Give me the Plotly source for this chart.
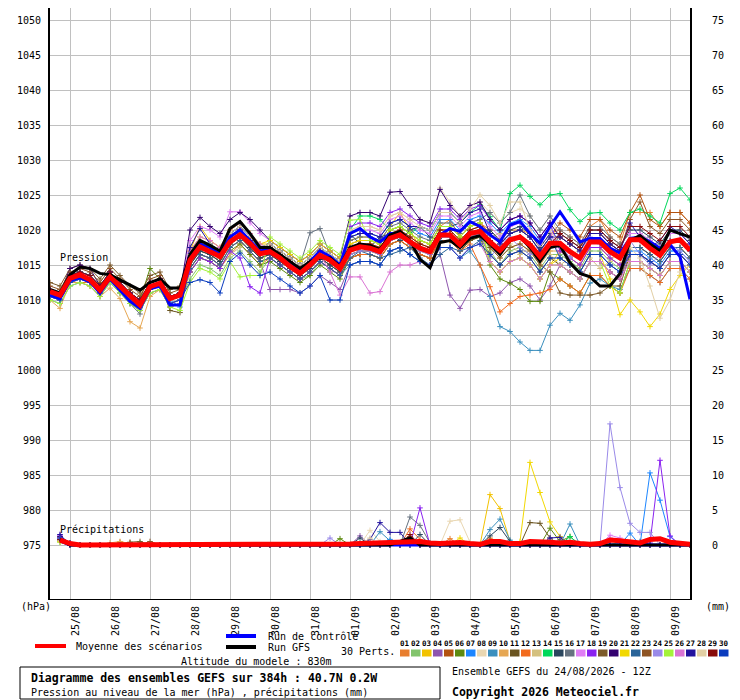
import plotly.graph_objects as go

# GEFS ensemble diagram, 24/08/2026 12Z run, 40.7N 0.2W
# one point every 6h, 0..384h
HOURS = list(range(0, 385, 6))
DATES = ["25/08", "26/08", "27/08", "28/08", "29/08", "30/08", "31/08", "01/09",
         "02/09", "03/09", "04/09", "05/09", "06/09", "07/09", "08/09", "09/09"]
DATE_HOURS = list(range(12, 384, 24))

MEAN = [1011.2, 1010.7, 1013.1, 1013.6, 1012.9, 1011.4, 1013.3, 1011.9, 1010.5, 1009.3,
        1011.9, 1012.4, 1010.2, 1010.7, 1015.7, 1017.6, 1016.9, 1016.2, 1018.3, 1019.3,
        1018.1, 1016.6, 1016.9, 1016.0, 1014.8, 1013.8, 1015.0, 1016.4, 1015.7, 1014.5,
        1017.1, 1017.6, 1017.4, 1016.9, 1018.8, 1019.3, 1018.3, 1017.4, 1016.9, 1019.3,
        1019.3, 1017.9, 1019.5, 1019.8, 1018.3, 1017.1, 1018.6, 1019.0, 1017.9, 1016.2,
        1018.1, 1018.1, 1016.9, 1016.0, 1018.3, 1018.3, 1016.9, 1016.0, 1018.6, 1018.6,
        1017.4, 1016.4, 1018.3, 1018.6, 1017.1]

CTRL = [1010.7, 1010.2, 1012.8, 1013.2, 1012.6, 1011, 1013, 1011.4, 1009.8, 1008.8, 1011.6, 1012, 1009.3, 1009.3,
        1016, 1018, 1017.5, 1016.5, 1019, 1020, 1018.5, 1017, 1017.3, 1016.3, 1015.2, 1014.2, 1015.5, 1017, 1016.2, 1015,
        1019.5, 1020.2, 1019, 1018.3, 1019.5, 1019.5, 1018.3, 1017.4, 1016.9, 1019.3, 1020.2, 1019.8, 1021.2, 1020.5,
        1019.3, 1018.3, 1020.7, 1021.2, 1019.5, 1018.1, 1020.5, 1022.6, 1020.5, 1018.3, 1018.8, 1018.8, 1017.4, 1016.7,
        1018.8, 1019, 1018.3, 1017.4, 1017.9, 1016.2, 1010.1]

GFS = [1011.5, 1011, 1013.6, 1014.7, 1014.5, 1013.8, 1013.6, 1012.9, 1012.1, 1011.4, 1012.5, 1013, 1011.7, 1011.7,
       1016.5, 1018.5, 1017.8, 1017, 1020.2, 1021.2, 1019.5, 1017.5, 1017.5, 1016.5, 1015.5, 1014.5, 1015.5, 1016, 1016, 1014.8,
       1017.5, 1018, 1017.8, 1017.2, 1019.3, 1019.8, 1018.5, 1015.8, 1014.6, 1018.2, 1018.5, 1017.5, 1018.8, 1019.2,
       1018, 1016.5, 1018.5, 1019, 1017.5, 1015.5, 1017.5, 1017.8, 1015.3, 1013.8, 1013.3, 1012, 1012, 1013.8,
       1018.5, 1019.2, 1018, 1017, 1020, 1019.5, 1019]

P01 = [1010.5, 1010, 1012.5, 1012.5, 1012.5, 1011, 1013, 1011, 1009.5, 1008.5, 1011, 1011.5, 1009, 1009.5,
       1014, 1016, 1015.5, 1014.5, 1016.5, 1018, 1016.5, 1015, 1016, 1015, 1014, 1013, 1014, 1015.5, 1014.5, 1013.5,
       1016.5, 1017, 1017, 1016.5, 1018.5, 1019, 1018, 1018.5, 1018, 1020.5, 1021.5, 1019, 1020.5, 1021,
       1020, 1018.5, 1020, 1020, 1019.5, 1017.5, 1019.5, 1020, 1019, 1018, 1020.5, 1021.5, 1019, 1018,
       1022.5, 1022.5, 1022.5, 1020.5, 1022.5, 1022.5, 1021]
P02 = [1010.5, 1010, 1012.5, 1013, 1012.5, 1011, 1013, 1011.5, 1010, 1009.5, 1011.5, 1012, 1009.5, 1010,
       1013, 1015, 1014.5, 1013.5, 1016, 1017, 1015.5, 1014, 1016, 1015, 1014, 1013, 1013.5, 1015.5, 1014.5, 1013.5,
       1017.5, 1018, 1018, 1017.5, 1019.5, 1020, 1019, 1018, 1017.5, 1020, 1020, 1018.5, 1020, 1020.5,
       1017, 1015, 1017, 1017.5, 1016.5, 1014.5, 1016.5, 1016.5, 1015.5, 1014.5, 1017, 1017, 1015.5, 1014.5,
       1016.5, 1016.5, 1015.5, 1014.5, 1016.5, 1016.5, 1015]
P03 = [1011.5, 1011, 1013.5, 1014, 1013.5, 1012, 1014, 1012.5, 1011, 1010, 1012.5, 1013, 1010.5, 1011,
       1017, 1020.5, 1018.5, 1017.5, 1020, 1021, 1019.5, 1018, 1018, 1017, 1016, 1015, 1016, 1017.5, 1016.5, 1015.5,
       1018.5, 1019, 1019, 1018.5, 1020.5, 1022.5, 1020, 1017.5, 1017, 1019.5, 1019.5, 1018, 1019.5, 1020,
       1015.5, 1014, 1015.5, 1016, 1015, 1013, 1015, 1017, 1016, 1015, 1017.5, 1017.5, 1016, 1015,
       1015.5, 1015.5, 1014.5, 1013.5, 1015.5, 1015.5, 1014]
P04 = [1010.5, 1010, 1012.5, 1013, 1012.5, 1011, 1013, 1011.5, 1010, 1009, 1011.5, 1012, 1009.5, 1010,
       1014.5, 1016.5, 1016, 1015, 1017.5, 1018.5, 1017, 1015.5, 1011.5, 1011.5, 1011.5, 1011, 1012, 1013.5, 1012.5, 1011.5,
       1015, 1015.5, 1015.5, 1015, 1017, 1017.5, 1016.5, 1015.5, 1015, 1016.5, 1010.7, 1008.8, 1011.4, 1011.5,
       1010.5, 1011, 1012.5, 1013, 1012, 1010, 1012, 1015, 1014, 1013, 1015.5, 1015.5, 1014, 1013,
       1016.5, 1016.5, 1015.5, 1014.5, 1016.5, 1016.5, 1015]
P05 = [1011, 1010.5, 1013, 1013.5, 1013, 1011.5, 1013.5, 1012, 1010.5, 1009.5, 1012, 1012.5, 1010, 1010.5,
       1016, 1018, 1017.5, 1016.5, 1019, 1020, 1018.5, 1017, 1017.5, 1016.5, 1015.5, 1014.5, 1015.5, 1017, 1016, 1015,
       1018, 1018.5, 1018.5, 1018, 1020, 1020.5, 1019.5, 1018.5, 1018, 1020.5, 1020.5, 1019, 1020.5, 1021,
       1019.5, 1018, 1019.5, 1020, 1019, 1017, 1019, 1021, 1020, 1019, 1021.5, 1021.5, 1020, 1019,
       1022.5, 1025, 1021.5, 1020.5, 1022.5, 1022.5, 1021]
P06 = [1011.5, 1011, 1013.5, 1014, 1013.5, 1012, 1014, 1012.5, 1011, 1010, 1014.5, 1013, 1010.5, 1011,
       1014, 1016, 1015.5, 1014.5, 1017, 1018, 1016.5, 1015, 1015.5, 1014.5, 1013.5, 1012.5, 1013.5, 1015, 1014, 1013,
       1016, 1016.5, 1016.5, 1016, 1018, 1018.5, 1017.5, 1016.5, 1016, 1018.5, 1018.5, 1017, 1018.5, 1019,
       1015, 1013, 1012.4, 1011.5, 1009.8, 1009.8, 1014, 1013, 1012, 1011, 1013.5, 1013.5, 1012, 1011,
       1015.5, 1015.5, 1014.5, 1013.5, 1015.5, 1015.5, 1014]
P07 = [1011, 1010.5, 1013, 1013.5, 1013, 1011.5, 1013.5, 1012, 1010.5, 1009.5, 1012, 1012.5, 1010, 1009,
       1016, 1018, 1017.5, 1016.5, 1019, 1020, 1018.5, 1017, 1017.5, 1016.5, 1015.5, 1014.5, 1015.5, 1017, 1016, 1015,
       1019, 1019.5, 1019.5, 1019, 1021, 1021.5, 1020.5, 1019.5, 1019, 1021.5, 1021.5, 1020, 1021.5, 1022,
       1021, 1019.5, 1021, 1021.5, 1020.5, 1018.5, 1020.5, 1018, 1017, 1016, 1018.5, 1018.5, 1017, 1016,
       1017, 1017, 1016, 1015, 1017, 1017, 1015.5]
P08 = [1010.5, 1010, 1012.5, 1013, 1012.5, 1011, 1013, 1011.5, 1010, 1009, 1011.5, 1012, 1009.5, 1010,
       1015.5, 1017.5, 1017, 1016, 1018.5, 1019.5, 1018, 1016.5, 1017, 1016, 1015, 1014, 1015, 1016.5, 1015.5, 1014.5,
       1020, 1020.5, 1020.5, 1020, 1022, 1022.5, 1021.5, 1021.5, 1021, 1026, 1024, 1022, 1023.5, 1024,
       1022.5, 1021, 1022.5, 1023, 1022, 1020, 1022, 1019, 1018, 1017, 1019.5, 1019.5, 1018, 1017,
       1017.5, 1017.5, 1016.5, 1015.5, 1017.5, 1017.5, 1016]
P09 = [1010, 1009.5, 1012, 1012.5, 1012, 1010.5, 1012.5, 1011, 1009.5, 1008.5, 1011, 1011.5, 1009, 1009.5,
       1014.5, 1016.5, 1016, 1015, 1017.5, 1018.5, 1017, 1015.5, 1016, 1015, 1014, 1013, 1014, 1015.5, 1014.5, 1013.5,
       1015, 1015.5, 1015.5, 1015, 1017, 1017.5, 1016.5, 1015.5, 1015, 1017.5, 1017.5, 1016, 1017, 1015,
       1010.5, 1006.2, 1005.5, 1004, 1002.8, 1002.8, 1006.4, 1008.1, 1007.1, 1009.3, 1012.4, 1013, 1012, 1011.5,
       1014.5, 1014.5, 1013.5, 1012.5, 1014.5, 1014.5, 1013]
P10 = [1010, 1008.8, 1012.5, 1012.5, 1012, 1010.5, 1011.7, 1010.2, 1006.9, 1006, 1010.5, 1011.5, 1009, 1009.5,
       1015, 1017, 1016.5, 1015.5, 1018, 1019, 1017.5, 1016, 1016.5, 1015.5, 1014.5, 1013.5, 1014.5, 1016, 1015, 1014,
       1017.5, 1018, 1018, 1017.5, 1019.5, 1020, 1019, 1018, 1017.5, 1020, 1020, 1018.5, 1020, 1020.5,
       1017.5, 1016, 1017.5, 1018, 1017, 1015, 1017, 1017, 1016, 1015, 1017.5, 1017.5, 1016, 1015,
       1017.5, 1017.5, 1016.5, 1015.5, 1017.5, 1017.5, 1016]
P11 = [1011, 1010.5, 1013, 1013.5, 1013, 1011.5, 1013.5, 1012, 1010.5, 1009.5, 1012, 1012.5, 1008.5, 1008.2,
       1015, 1017, 1016.5, 1015.5, 1018, 1019, 1017.5, 1016, 1016.5, 1015.5, 1014.5, 1013.5, 1014.5, 1016, 1015, 1014,
       1016, 1016.5, 1016.5, 1016, 1018, 1018.5, 1017.5, 1016.5, 1016, 1018.5, 1018.5, 1017, 1018.5, 1019,
       1016.5, 1015, 1016.5, 1017, 1016, 1014, 1016, 1015, 1014, 1013, 1015.5, 1015.5, 1014, 1013,
       1017.5, 1017.5, 1016.5, 1015.5, 1017.5, 1017.5, 1016]
P12 = [1010.5, 1010, 1012.5, 1013, 1012.5, 1011, 1013, 1011.5, 1010, 1009, 1011.5, 1012, 1009.5, 1010,
       1014.5, 1016.5, 1016, 1015, 1017.5, 1018.5, 1017, 1015.5, 1016, 1015, 1014, 1013, 1014, 1015.5, 1014.5, 1013.5,
       1016, 1016.5, 1016.5, 1016, 1018, 1018.5, 1017.5, 1016.5, 1016, 1018.5, 1018.5, 1017, 1018, 1015,
       1011.9, 1008.3, 1009.5, 1010.5, 1010.7, 1011, 1011.5, 1013, 1012, 1011, 1013.5, 1013.5, 1012, 1011,
       1014.5, 1014.5, 1013.5, 1012.5, 1014.5, 1014.5, 1013]
P13 = [1011, 1010.5, 1013, 1013.5, 1013, 1011.5, 1013.5, 1012, 1010.5, 1009.5, 1012, 1012.5, 1010, 1010.5,
       1016, 1018, 1017.5, 1016.5, 1016.5, 1017.5, 1018.5, 1017, 1017.5, 1016.5, 1015.5, 1014.5, 1015.5, 1017, 1016, 1015,
       1018, 1018.5, 1018.5, 1018, 1020, 1020.5, 1019.5, 1018.5, 1018, 1020.5, 1020.5, 1019, 1020.5, 1021,
       1019, 1019.5, 1018, 1016.5, 1017.5, 1018, 1016.5, 1015, 1016, 1017.5, 1016, 1014.5, 1015.5, 1017,
       1016.5, 1016.5, 1015.5, 1014.5, 1016.5, 1016.5, 1015]
P14 = [1011.5, 1011, 1013.5, 1014, 1013.5, 1012, 1014, 1012.5, 1011, 1010, 1012.5, 1013, 1010.5, 1011,
       1016.5, 1018.5, 1018, 1017, 1019.5, 1020.5, 1019, 1017.5, 1018, 1017, 1016, 1015, 1016, 1017.5, 1016.5, 1015.5,
       1020, 1022, 1022, 1021.5, 1020, 1020.5, 1019.5, 1020.5, 1020, 1022.5, 1022.5, 1021, 1022.5, 1023.6,
       1021.9, 1020, 1025.2, 1026.4, 1024.8, 1023.6, 1025, 1025.2, 1022.9, 1021.2, 1022.4, 1022.5, 1021, 1020,
       1022.5, 1023, 1022, 1021, 1025.2, 1026, 1024.3]
P15 = [1011, 1010.5, 1013, 1013.5, 1013, 1011.5, 1013.5, 1012, 1010.5, 1009.5, 1012, 1012.5, 1010, 1010.5,
       1015, 1017, 1016.5, 1015.5, 1018, 1019, 1017.5, 1016, 1016.5, 1015.5, 1014.5, 1013.5, 1014.5, 1016, 1015, 1014,
       1019.5, 1018, 1017.5, 1019, 1019.5, 1018.5, 1020, 1020.5, 1019, 1018.5, 1020.5, 1021, 1019.5, 1020,
       1020, 1018.5, 1020, 1020.5, 1019.5, 1017.5, 1019.5, 1019.5, 1018.5, 1017.5, 1020, 1020, 1018.5, 1017.5,
       1020, 1020, 1019, 1018, 1020, 1020, 1018.5]
P16 = [1011, 1010.5, 1013, 1013.5, 1013, 1011.5, 1013.5, 1012, 1009.5, 1008, 1012, 1012.5, 1010, 1010.5,
       1016.5, 1018.5, 1018, 1017, 1019.5, 1020.5, 1019, 1017.5, 1018, 1017, 1016, 1015, 1019.6, 1020.2, 1016.5, 1015.5,
       1018.5, 1019, 1019, 1018.5, 1020.5, 1021, 1020, 1019, 1018.5, 1021, 1021, 1019.5, 1021, 1021.5,
       1022.5, 1021, 1022.5, 1025, 1022, 1020, 1022, 1020, 1019, 1018, 1020.5, 1020.5, 1019, 1018,
       1019.5, 1019.5, 1018.5, 1017.5, 1019.5, 1019.5, 1018]
P17 = [1011.5, 1011, 1013.5, 1014, 1013.5, 1012, 1014, 1012.5, 1011, 1010, 1012.5, 1013, 1010.5, 1011,
       1018.5, 1020.5, 1020, 1019, 1022.6, 1022.6, 1021, 1019.5, 1018.5, 1017.5, 1016.5, 1015.5, 1016.5, 1018, 1017, 1016,
       1019.5, 1020, 1020, 1019.5, 1021.5, 1022, 1021, 1020, 1019.5, 1022, 1022, 1020.5, 1022, 1022.5,
       1020.5, 1019, 1020.5, 1021, 1020, 1018, 1020, 1016, 1015, 1014, 1016.5, 1016.5, 1015, 1014,
       1019.5, 1019.5, 1018.5, 1017.5, 1019.5, 1019.5, 1018]
P18 = [1011, 1010.5, 1013, 1013.5, 1013, 1011.5, 1013.5, 1012, 1010.5, 1009.5, 1012, 1012.5, 1010, 1010.5,
       1014, 1016, 1015.5, 1014.5, 1017, 1016, 1011.9, 1011, 1016, 1015, 1014, 1013, 1014, 1015.5, 1014.5, 1013.5,
       1020.5, 1021, 1021, 1020.5, 1022.5, 1023, 1022, 1021, 1020.5, 1023, 1023, 1021.5, 1023, 1023.5,
       1021.5, 1020, 1021.5, 1022, 1021, 1019, 1021, 1017, 1016, 1015, 1017.5, 1017.5, 1016, 1015,
       1016.5, 1016.5, 1015.5, 1014.5, 1016.5, 1016.5, 1015]
P19 = [1012.5, 1012, 1014.5, 1015, 1014.5, 1013, 1015, 1013.5, 1012, 1011, 1013.5, 1014, 1011.5, 1012,
       1016, 1018, 1017.5, 1016.5, 1019, 1020, 1018.5, 1017, 1017.5, 1016.5, 1015.5, 1014.5, 1015.5, 1017, 1016, 1015,
       1016.5, 1017, 1017, 1016.5, 1018.5, 1019, 1018, 1017, 1016.5, 1019, 1019, 1017.5, 1019, 1019.5,
       1017.5, 1016, 1017.5, 1018, 1017, 1015, 1014, 1011, 1010.7, 1010.7, 1010.7, 1011, 1012, 1012,
       1016.5, 1016.5, 1015.5, 1014.5, 1016.5, 1016.5, 1015]
P20 = [1011.5, 1011, 1014.5, 1015, 1014.5, 1012, 1014, 1012.5, 1011, 1010, 1012.5, 1013, 1010.5, 1011,
       1020, 1021.8, 1020.5, 1019.5, 1021.5, 1022.5, 1021.5, 1020, 1018.5, 1017.5, 1016.5, 1015.5, 1016.5, 1018, 1017, 1016,
       1022, 1022.5, 1022.5, 1022, 1025.4, 1025.5, 1023.5, 1021.5, 1021, 1025.8, 1023.5, 1022, 1023.5, 1024,
       1021.5, 1020, 1021.5, 1022, 1021, 1019, 1021, 1019, 1018, 1017, 1019.5, 1019.5, 1018, 1017,
       1018.5, 1018.5, 1017.5, 1016.5, 1018.5, 1018.5, 1017]
P21 = [1011, 1010.5, 1013, 1013.5, 1013, 1011.5, 1013.5, 1012, 1010.5, 1009.5, 1012, 1012.5, 1010, 1010.5,
       1017, 1019, 1018.5, 1017.5, 1020, 1021, 1019.5, 1018, 1018.5, 1017.5, 1016.5, 1015.5, 1016.5, 1018, 1017, 1016,
       1018, 1018.5, 1018.5, 1018, 1020, 1020.5, 1019.5, 1018.5, 1018, 1020.5, 1020.5, 1019, 1020.5, 1021,
       1015.5, 1014, 1015.5, 1016, 1015, 1013, 1015, 1016, 1015, 1014, 1016.5, 1016.5, 1013, 1007.9,
       1010, 1008.3, 1006.2, 1008, 1011.5, 1013.5, 1015]
P22 = [1010.5, 1010, 1012.5, 1013, 1012.5, 1011, 1013, 1011.5, 1010, 1009, 1011.5, 1012, 1009.5, 1010,
       1014.5, 1016.5, 1016, 1015, 1017.5, 1018.5, 1017, 1015.5, 1016, 1015, 1014, 1013, 1014, 1015.5, 1014.5, 1013.5,
       1016, 1017, 1016.5, 1016, 1016.5, 1017, 1017.5, 1016, 1015, 1016.5, 1017.5, 1017, 1017.5, 1018.5,
       1019.5, 1018, 1019.5, 1020, 1019, 1017, 1019, 1016, 1015, 1014, 1016.5, 1016.5, 1015, 1014,
       1017.5, 1017.5, 1016.5, 1015.5, 1017.5, 1017.5, 1016]
P23 = [1012, 1011.5, 1014, 1014.5, 1014, 1012.5, 1014.5, 1013, 1011.5, 1010.5, 1013, 1013.5, 1011, 1011.5,
       1015.5, 1017.5, 1017, 1016, 1018.5, 1019.5, 1018, 1016.5, 1017, 1016, 1015, 1014, 1015, 1016.5, 1015.5, 1014.5,
       1017, 1017.5, 1017.5, 1017, 1019, 1019.5, 1018.5, 1017.5, 1017, 1019.5, 1019.5, 1018, 1019.5, 1020,
       1018.5, 1017, 1018.5, 1019, 1018, 1016, 1018, 1019, 1018, 1017, 1019.5, 1019.5, 1018, 1017,
       1021.5, 1024, 1020.5, 1019.5, 1021.5, 1021.5, 1020]
P24 = [1010.5, 1010, 1012.5, 1013, 1012.5, 1011, 1013, 1011.5, 1010, 1009, 1011.5, 1012, 1009.5, 1010,
       1016, 1018, 1017.5, 1016.5, 1019, 1020, 1018.5, 1017, 1017.5, 1016.5, 1015.5, 1014.5, 1015.5, 1017, 1016, 1015,
       1016.5, 1017, 1017, 1016.5, 1018.5, 1019, 1018, 1017, 1016.5, 1019, 1019, 1017.5, 1019, 1019.5,
       1016, 1018, 1019, 1017.5, 1016.5, 1018, 1019, 1018, 1016, 1017, 1019, 1018, 1016.5, 1017,
       1018.5, 1016.5, 1015, 1016.5, 1018, 1017, 1015.5]
P25 = [1010, 1009.5, 1012, 1012.5, 1012, 1010.5, 1012.5, 1011, 1009.5, 1008.5, 1011, 1011.5, 1009, 1008.5,
       1012.5, 1014.5, 1014, 1013, 1015.5, 1013.3, 1013.5, 1013.5, 1019, 1018, 1017, 1016, 1017, 1018.5, 1017.5, 1016.5,
       1021.4, 1021.5, 1018.5, 1018, 1020, 1020.5, 1019.5, 1018.5, 1018, 1020.5, 1020.5, 1019, 1020.5, 1021,
       1015.5, 1014, 1015.5, 1016, 1015, 1013, 1015, 1015, 1014, 1013, 1015.5, 1015.5, 1012, 1011,
       1015.5, 1015.5, 1014.5, 1013.5, 1015.5, 1015.5, 1014]
P26 = [1011, 1010.5, 1013, 1013.5, 1013, 1011.5, 1013.5, 1012, 1010.5, 1009.5, 1012, 1012.5, 1010, 1010.5,
       1017, 1019, 1018.5, 1017.5, 1020, 1021, 1019.5, 1018, 1017, 1016, 1015, 1014, 1015, 1016.5, 1014, 1010.7,
       1013.3, 1013.3, 1011, 1011.2, 1014, 1015, 1015, 1015.5, 1015, 1017.5, 1017.5, 1016, 1017.5, 1018,
       1015.5, 1014, 1015.5, 1016, 1015, 1013, 1015, 1015, 1014, 1013, 1015.5, 1015.5, 1014, 1013,
       1015.5, 1015.5, 1014.5, 1013.5, 1015.5, 1015.5, 1014]
P27 = [1011.5, 1011, 1013.5, 1014, 1013.5, 1012, 1014, 1012.5, 1011, 1010, 1012.5, 1013, 1010.5, 1011,
       1017.5, 1020.2, 1018, 1017, 1019.5, 1020.5, 1019, 1017.5, 1018, 1017, 1016, 1015, 1016, 1017.5, 1016.5, 1015.5,
       1019, 1019.5, 1019.5, 1019, 1021, 1021.5, 1020.5, 1020.5, 1020, 1022.5, 1022.5, 1021, 1022.5, 1023,
       1019.5, 1018, 1019.5, 1020, 1019, 1017, 1019, 1019, 1018, 1017, 1019.5, 1019.5, 1018, 1017,
       1021, 1019, 1017.5, 1018.5, 1020.5, 1019.5, 1018]
P28 = [1011, 1010.5, 1013, 1013.5, 1013, 1011.5, 1013.5, 1012, 1010.5, 1009.5, 1012, 1012.5, 1010, 1010.5,
       1016.5, 1018.5, 1018, 1017, 1019.5, 1020.5, 1019, 1017.5, 1018, 1017, 1016, 1015, 1016, 1017.5, 1016.5, 1015.5,
       1020, 1020.5, 1020.5, 1020, 1022, 1022.5, 1021.5, 1020.5, 1020, 1022.5, 1022.5, 1021, 1023, 1025,
       1023.5, 1021, 1024, 1024, 1020, 1018, 1020, 1018, 1017, 1016, 1018.5, 1018.5, 1017, 1016,
       1017.5, 1016, 1012, 1007.4, 1010, 1014, 1015]
P29 = [1011.5, 1011, 1013.5, 1014, 1013.5, 1012, 1014, 1012.5, 1011, 1010, 1012.5, 1013, 1010.5, 1011,
       1016, 1018, 1017.5, 1016.5, 1019, 1020, 1018.5, 1017, 1017.5, 1016.5, 1015.5, 1014.5, 1015.5, 1017, 1016, 1015,
       1017.5, 1018, 1018, 1017.5, 1019.5, 1020, 1019, 1018, 1017.5, 1020, 1020, 1018.5, 1020, 1020.5,
       1018.5, 1017, 1018.5, 1019, 1018, 1016, 1018, 1019.5, 1018.5, 1017.5, 1020, 1020, 1018.5, 1017.5,
       1020.5, 1020.5, 1019.5, 1018.5, 1020.5, 1020.5, 1019]
P30 = [1010.5, 1010, 1012.5, 1013, 1012.5, 1011, 1013, 1011.5, 1010, 1009, 1011.5, 1012, 1009.5, 1010,
       1012.5, 1012.9, 1012.5, 1011, 1015.5, 1016.7, 1015, 1013.5, 1014, 1013, 1012, 1011, 1012, 1013.5, 1010, 1010,
       1015, 1015.5, 1015.5, 1015, 1017, 1017.5, 1016.5, 1015.5, 1015, 1017.5, 1017.5, 1016, 1017.5, 1018,
       1016.5, 1015, 1016.5, 1017, 1016, 1014, 1016, 1016, 1015, 1014, 1016.5, 1016.5, 1015, 1014,
       1016.5, 1016.5, 1015.5, 1014.5, 1016.5, 1016.5, 1015]

# 6h precipitation (mm), from +6h onwards
RAIN_MEAN = [0.7, 0.2, 0.0, 0.0, 0.0, 0.05, 0.1, 0.1, 0.1, 0.05,
             0.05, 0.0, 0.0, 0.0, 0.0, 0.0, 0.0, 0.0, 0.0, 0.0,
             0.0, 0.0, 0.0, 0.0, 0.05, 0.05, 0.05, 0.1, 0.1, 0.15,
             0.2, 0.25, 0.3, 0.3, 0.3, 0.5, 0.5, 0.3, 0.2, 0.3,
             0.35, 0.2, 0.1, 0.5, 0.5, 0.2, 0.2, 0.5, 0.5, 0.4,
             0.3, 0.4, 0.2, 0.1, 0.2, 0.7, 0.6, 0.4, 0.3, 0.8,
             0.9, 0.4, 0.2, 0.1]
# members: only the steps with rain {step: mm}, step = hour / 6
R01 = {1: 0.8, 2: 0.2, 40: 0.9, 44: 1.0, 45: 0.4}
R02 = {1: 0.6, 2: 0.1, 57: 0.5}
R03 = {1: 0.9, 2: 0.2, 44: 7.2, 45: 5.2, 46: 0.5}
R04 = {1: 1.2, 2: 0.3, 31: 1.3, 51: 0.8}
R05 = {1: 0.7, 7: 0.4, 8: 0.3, 36: 1.0}
R06 = {1: 0.5, 29: 0.9, 50: 2.4, 51: 0.5, 52: 1.2}
R07 = {1: 0.9, 34: 0.8, 58: 1.7, 60: 10.3, 61: 6.4, 62: 1.2}
R08 = {1: 0.6, 32: 2.1, 33: 0.5, 40: 3.4, 41: 3.6, 42: 0.4}
R09 = {1: 1.0, 33: 1.9, 34: 0.6, 44: 2.2, 45: 3.7, 46: 0.7, 52: 3.0}
R10 = {1: 0.7, 6: 0.3, 7: 0.5, 8: 0.2}
R11 = {1: 0.8, 48: 3.2, 49: 3.1, 50: 1.0}
R12 = {1: 0.6, 36: 2.3, 37: 0.8}
R13 = {1: 0.4, 9: 0.2}
R14 = {1: 0.5, 9: 0.3, 52: 1.2}
R15 = {1: 1.1, 31: 1.0, 37: 1.5, 44: 1.3, 45: 2.5, 46: 0.5}
R16 = {1: 0.7, 36: 4.0, 37: 2.8, 38: 0.3}
R17 = {1: 0.9, 56: 1.4, 57: 1.0}
R18 = {1: 1.4, 37: 5.3, 60: 0.3, 61: 12.1, 62: 1.3}
R19 = {1: 0.6, 8: 0.4, 9: 0.5}
R20 = {1: 1.2, 2: 0.3}
R21 = {1: 0.5, 41: 1.0, 47: 0.5, 48: 11.8, 49: 7.5, 50: 3.3, 51: 1.2}
R22 = {1: 0.8, 59: 0.5}
R23 = {1: 0.7, 10: 0.5, 36: 1.2}
R24 = {1: 0.9, 28: 1.0, 56: 17.3, 57: 8.2, 58: 3.1, 59: 1.8, 60: 1.8}
R25 = {1: 0.4, 57: 0.5}
R26 = {1: 1.0, 56: 1.0}
R27 = {1: 1.5, 32: 0.8, 33: 3.2, 34: 1.8, 35: 1.8, 50: 1.0, 51: 1.1}
R28 = {1: 0.6, 32: 1.0}
R29 = {1: 0.8, 36: 1.5}
R30 = {1: 1.0}
R_CTRL = {1: 0.6}
R_GFS = {1: 0.8, 35: 0.5, 36: 1.0}

PERT_COLORS = ["#E87E2E", "#82C46C", "#F2C200", "#8E55AE", "#B3520F", "#5D8A0F", "#1C86FF", "#E9D7B2",
               "#3A8FBE", "#E6A753", "#6A5420", "#F26B1D", "#D4C07E", "#00D85A", "#2A465E", "#667280",
               "#E07EF5", "#8A22F0", "#7C5A2A", "#330070", "#F2D800", "#2A6499", "#8E5424", "#9A8AE8",
               "#A4F23A", "#DA74D4", "#22129E", "#E2CFA4", "#880A0A", "#0A3CBE"]

PERTS = [P01, P02, P03, P04, P05, P06, P07, P08, P09, P10, P11, P12, P13, P14, P15,
         P16, P17, P18, P19, P20, P21, P22, P23, P24, P25, P26, P27, P28, P29, P30]
RAINS = [R01, R02, R03, R04, R05, R06, R07, R08, R09, R10, R11, R12, R13, R14, R15,
         R16, R17, R18, R19, R20, R21, R22, R23, R24, R25, R26, R27, R28, R29, R30]
for p in PERTS + [MEAN, CTRL, GFS]:
    assert len(p) == len(HOURS)

RAIN_HOURS = HOURS[1:]
MONO = "DejaVu Sans Mono"


def rain_series(d):
    return [d.get(i, 0.0) for i in range(1, len(HOURS))]


fig = go.Figure()

# 30 perturbations
for col, pres, rain in zip(PERT_COLORS, PERTS, RAINS):
    mk = dict(symbol="cross-thin", size=4, line=dict(width=1, color=col))
    fig.add_trace(go.Scatter(x=HOURS, y=pres, mode="lines+markers",
                             line=dict(color=col, width=1), marker=mk))
    fig.add_trace(go.Scatter(x=RAIN_HOURS, y=rain_series(rain), yaxis="y2",
                             mode="lines+markers", line=dict(color=col, width=1), marker=mk))

# control, GFS, mean
for pres, rain, col, w in [(CTRL, rain_series(R_CTRL), "#0000FF", 3),
                           (GFS, rain_series(R_GFS), "#000000", 3),
                           (MEAN, RAIN_MEAN, "#FF0000", 5)]:
    fig.add_trace(go.Scatter(x=HOURS, y=pres, mode="lines", line=dict(color=col, width=w)))
    fig.add_trace(go.Scatter(x=RAIN_HOURS, y=rain, yaxis="y2", mode="lines",
                             line=dict(color=col, width=w)))

# the page body has an 8px margin, so the figure is 732x692 and sits at (8, 8);
# positions below are given in page pixels and converted to paper coords
# (plot area: x 50..690, y 8..599 on the page)
def px(X):
    return (X - 50) / 640.0


def py(Y):
    return (599 - Y) / 591.0


ANN = []


def text(s, X, Y, size=10, anchor="left"):
    ANN.append(dict(text=s, x=px(X), y=py(Y), xref="paper", yref="paper",
                    xanchor=anchor, yanchor="middle", showarrow=False,
                    font=dict(family=MONO, size=size, color="black")))


text("Pression", 58, 257)
text("Précipitations", 58, 529)
text("(hPa)", 19, 606)
text("(mm)", 704, 606)
text("Moyenne des scénarios", 74, 646)
text("Run de contrôle", 266, 636)
text("Run GFS", 266, 647)
text("30 Perts.", 339, 651)
text("Altitude du modele : 830m", 179, 661)
text("<b>Diagramme des ensembles GEFS sur 384h : 40.7N 0.2W</b>", 29, 678, size=11.5)
text("Pression au niveau de la mer (hPa) , précipitations (mm)", 29, 692)
text("Ensemble GEFS du 24/08/2026 - 12Z", 450, 671)
text("<b>Copyright 2026 Meteociel.fr</b>", 450, 692, size=11.5)

SHAPES = []


def seg(X0, X1, Y, col, w):
    SHAPES.append(dict(type="line", xref="paper", yref="paper", x0=px(X0), x1=px(X1),
                       y0=py(Y), y1=py(Y), line=dict(color=col, width=w)))


seg(35, 66, 646, "#FF0000", 4)
seg(226, 256, 636, "#0000FF", 4)
seg(226, 256, 647, "#000000", 4)

for k, col in enumerate(PERT_COLORS):
    x0 = 400 + 11 * k
    SHAPES.append(dict(type="rect", xref="paper", yref="paper", x0=px(x0), x1=px(x0 + 9.5),
                       y0=py(656.5), y1=py(649.5), fillcolor=col, line=dict(width=0)))
    text("<b>%02d</b>" % (k + 1), x0 + 4.75, 643, size=7.5, anchor="center")

SHAPES.append(dict(type="rect", xref="paper", yref="paper", x0=px(20), x1=px(440),
                   y0=py(699), y1=py(667), line=dict(color="black", width=1)))

fig.update_layout(
    width=732, height=692,
    margin=dict(l=42, r=50, t=0, b=101, pad=0, autoexpand=False),
    paper_bgcolor="white", plot_bgcolor="white",
    showlegend=False, hovermode=False,
    font=dict(family=MONO, size=10, color="black"),
    xaxis=dict(range=[0, 384], tickvals=DATE_HOURS, ticktext=DATES, tickangle=-90,
               showgrid=True, gridcolor="#C0C0C0", gridwidth=1, zeroline=False,
               showline=True, linecolor="black", linewidth=1, ticks="",
               ticklabelshift=6, ticklabelstandoff=2,
               tickfont=dict(family=MONO, size=10, color="black")),
    yaxis=dict(range=[967.286, 1051.714], tickvals=list(range(975, 1051, 5)),
               showgrid=True, gridcolor="#C0C0C0", gridwidth=1, zeroline=False,
               showline=True, linecolor="black", linewidth=2, ticks="",
               ticklabelstandoff=5,
               tickfont=dict(family=MONO, size=10, color="black")),
    yaxis2=dict(range=[-7.714, 76.714], tickvals=list(range(0, 76, 5)), overlaying="y",
                side="right", showgrid=False, zeroline=False,
                showline=True, linecolor="black", linewidth=2, ticks="",
                ticklabelstandoff=18,
                tickfont=dict(family=MONO, size=10, color="black")),
    annotations=ANN, shapes=SHAPES,
)

fig.write_html("out.html")
